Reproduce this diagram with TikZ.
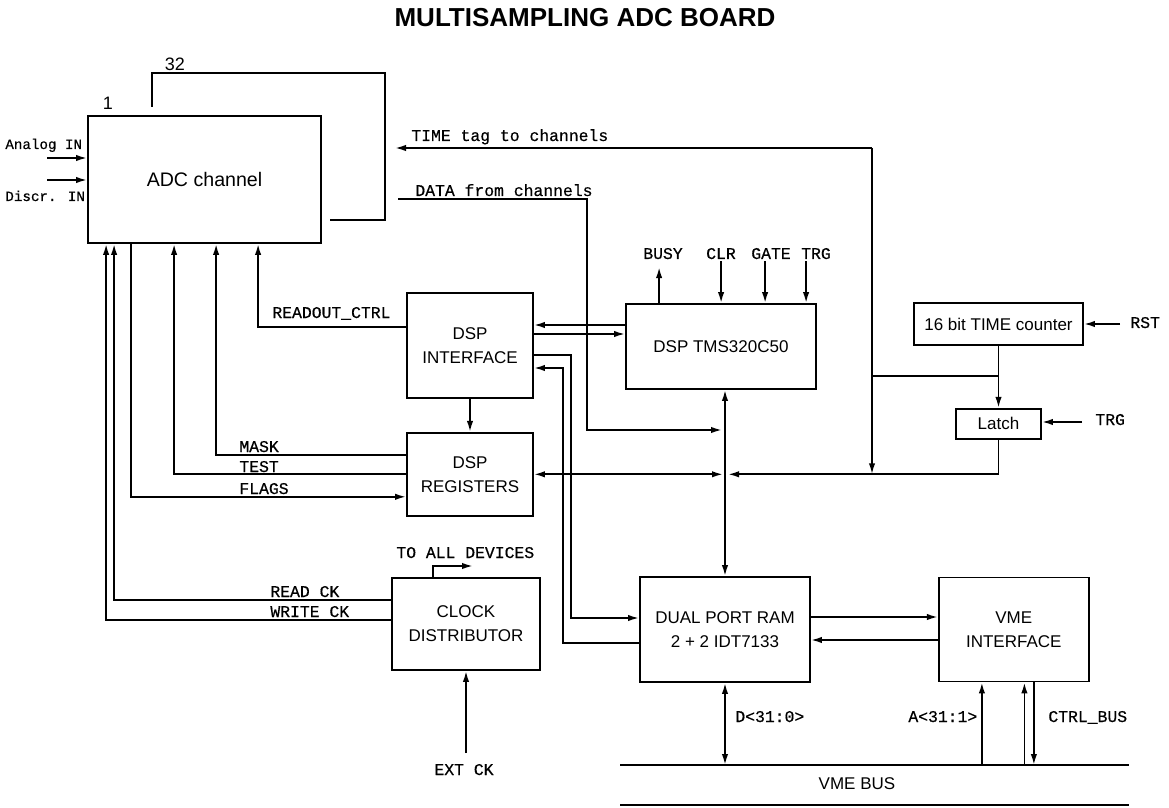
\documentclass[tikz,border=0pt]{standalone}
\usepackage{fontspec}
\setmainfont{Liberation Sans}
\setsansfont{Liberation Sans}
\setmonofont{Liberation Mono}
\newfontfamily\sigmono[FakeBold=0.5]{Liberation Mono}
\usetikzlibrary{arrows.meta,calc,positioning}
\newcommand{\blkfont}{\fontsize{8.5}{12}\selectfont\sffamily}
\newcommand{\sigfont}{\fontsize{8.2}{9}\selectfont\sigmono}
\tikzset{
  adcblock/.style={draw, line width=0.9pt, align=center, inner sep=0pt, font=\blkfont},
  adcline/.style={line width=0.9pt},
  adcarrow/.style={-{Latex[length=5.5pt,width=3.2pt]}, line width=0.9pt},
  adcboth/.style={{Latex[length=5.5pt,width=3.2pt]}-{Latex[length=5.5pt,width=3.2pt]}, line width=0.9pt},
  adclabel/.style={font=\sigfont, inner sep=0pt}
}

\begin{document}
\begin{tikzpicture}[x=0.5pt, y=-0.5pt]
  \useasboundingbox (0,0) rectangle (1169,808);
  \node[font=\fontsize{13}{15}\selectfont\sffamily\bfseries] (title) at (585,18) {MULTISAMPLING ADC BOARD};

  \node[adcblock, minimum width=116.5pt, minimum height=63.5pt, font=\fontsize{9.8}{12}\selectfont\sffamily] (adc) at (204.5,179.5) {ADC channel};
  \node[adcblock, minimum width=63pt, minimum height=52.5pt] (dspif) at (470,345.5) {DSP\\INTERFACE};
  \node[adcblock, minimum width=63pt, minimum height=41.5pt, below=16.5pt of dspif] (dspreg) {DSP\\REGISTERS};
  \node[adcblock, minimum width=95pt, minimum height=42.5pt] (dsp) at (721,346.5) {DSP TMS320C50};
  \node[adcblock, minimum width=84.5pt, minimum height=21pt] (counter) at (998.5,324) {16 bit TIME counter};
  \node[adcblock, minimum width=42.5pt, minimum height=15pt, below=31pt of counter] (latch) {Latch};
  \node[adcblock, minimum width=74pt, minimum height=46pt] (clock) at (466,624) {CLOCK\\DISTRIBUTOR};
  \node[adcblock, minimum width=85pt, minimum height=52.5pt] (ram) at (725,629.5) {DUAL PORT RAM\\2 + 2 IDT7133};
  \node[adcblock, minimum width=75pt, minimum height=52pt, right=63.5pt of ram] (vme) {VME\\INTERFACE};

  \coordinate (ain) at (47,158);
  \coordinate (din) at (47,180);
  \coordinate (tagtop) at (872,148);
  \coordinate (tagend) at (395,148);
  \coordinate (datain) at (398,199);
  \coordinate (busdata) at (722,430);
  \coordinate (busreg) at (dspreg.east -| ram.north);
  \coordinate (cntsplit) at (998.5,376);
  \coordinate (rst) at (1120,324);
  \coordinate (trgin) at (1082,422);
  \coordinate (alldev) at (473,566);
  \coordinate (extck) at (466,753);
  \coordinate (busl) at (620,765);
  \coordinate (busr) at (1129,765);
  \coordinate (busbl) at (620,805);
  \coordinate (busbr) at (1129,805);
  \coordinate (abus) at ([xshift=22pt]vme.south west);
  \coordinate (cup) at ([xshift=43.25pt]vme.south west);
  \coordinate (cdn) at ([xshift=48pt]vme.south west);

  \draw[adcarrow] (ain) -- (ain -| adc.west);
  \draw[adcarrow] (din) -- (din -| adc.west);
  \node[adclabel, font=\fontsize{7.1}{8}\selectfont\sigmono, anchor=base west] (ainlbl) at (5,149) {Analog IN};
  \node[adclabel, font=\fontsize{7.1}{8}\selectfont\sigmono, anchor=base west] (dinlbl) at (5,201) {Discr. IN};
  \draw[adcline] (152,107) |- (385,73) |- (330,220);
  \node[font=\fontsize{9}{10}\selectfont\sffamily] (first) at (108,103) {1};
  \node[font=\fontsize{9}{10}\selectfont\sffamily] (last) at (175,64) {32};

  \draw[adcarrow] (tagtop) -- (tagend);
  \node[adclabel, anchor=base west] (taglbl) at (411,141) {TIME tag to channels};
  \draw[adcarrow] (datain) -| (587,430) -- (busdata);
  \node[adclabel, anchor=base west] (datalbl) at (415,196) {DATA from channels};

  \draw[adcarrow] ([yshift=9.25pt]dspif.west) -| ([xshift=85.5pt]adc.south west);
  \node[adclabel, anchor=base west] (rdlbl) at (272,318) {READOUT\_CTRL};
  \draw[adcarrow] ([yshift=9.75pt]dspreg.west) -| ([xshift=64.5pt]adc.south west);
  \node[adclabel, anchor=base west] (masklbl) at (239,452) {MASK};
  \draw[adcarrow] (dspreg.west) -| ([xshift=43.5pt]adc.south west);
  \node[adclabel, anchor=base west] (testlbl) at (239,472) {TEST};
  \draw[adcarrow] ([xshift=22pt]adc.south west) |- ([yshift=-11.25pt]dspreg.west);
  \node[adclabel, anchor=base west] (flaglbl) at (239,494) {FLAGS};
  \draw[adcarrow] ([yshift=12pt]clock.west) -| ([xshift=13.5pt]adc.south west);
  \node[adclabel, anchor=base west] (rcklbl) at (270,597) {READ CK};
  \draw[adcarrow] ([yshift=2pt]clock.west) -| ([xshift=9.5pt]adc.south west);
  \node[adclabel, anchor=base west] (wcklbl) at (270,617) {WRITE CK};

  \draw[adcarrow] (dspif) -- (dspreg);
  \draw[adcarrow] ([yshift=10.75pt]dsp.west) -- ([yshift=10.25pt]dspif.east);
  \draw[adcarrow] ([yshift=5.75pt]dspif.east) -- ([yshift=6.25pt]dsp.west);
  \draw[adcarrow] ([yshift=-4.75pt]dspif.east) -| ([xshift=-34pt,yshift=5.75pt]ram.west) -- ([yshift=5.75pt]ram.west);
  \draw[adcarrow] ([yshift=-6.75pt]ram.west) -- ([xshift=-38pt,yshift=-6.75pt]ram.west) |- ([yshift=-11.25pt]dspif.east);

  \draw[adcarrow] ([xshift=17pt]dsp.north west) -- ([xshift=17pt,yshift=18pt]dsp.north west);
  \draw[adcarrow] ([xshift=48pt,yshift=21pt]dsp.north west) -- ([xshift=48pt]dsp.north west);
  \draw[adcarrow] ([xshift=70pt,yshift=21pt]dsp.north west) -- ([xshift=70pt]dsp.north west);
  \draw[adcarrow] ([xshift=90.5pt,yshift=21pt]dsp.north west) -- ([xshift=90.5pt]dsp.north west);
  \node[adclabel, anchor=base] (busylbl) at (663,259) {BUSY};
  \node[adclabel, anchor=base] (clrlbl) at (721,259) {CLR};
  \node[adclabel, anchor=base] (gatelbl) at (771,259) {GATE};
  \node[adclabel, anchor=base] (trglbl) at (816,259) {TRG};

  \draw[adcboth] (dsp.south -| ram.north) -- (ram.north);
  \draw[adcboth] (dspreg.east) -- ([xshift=-1pt]busreg);
  \draw[adcarrow] (latch.south) |- ([xshift=1.5pt]busreg);
  \draw[adcarrow] (tagtop) -- (tagtop |- busreg);
  \draw[adcline] (tagtop |- cntsplit) -- (cntsplit);
  \draw[adcarrow] (counter.south) -- (latch.north);
  \draw[adcarrow] (rst) -- (rst -| counter.east);
  \node[adclabel, anchor=base west] (rstlbl) at (1130,328) {RST};
  \draw[adcarrow] (trgin) -- (trgin -| latch.east);
  \node[adclabel, anchor=base west] (trginlbl) at (1095,425) {TRG};

  \draw[adcarrow] ([xshift=21pt]clock.north west) |- (alldev);
  \node[adclabel, anchor=base west] (alllbl) at (396,558) {TO ALL DEVICES};
  \draw[adcarrow] (extck) -- (clock.south);
  \node[adclabel, anchor=base] (extlbl) at (464,775) {EXT CK};

  \draw[adcarrow] ([yshift=6.25pt]ram.east) -- ([yshift=6.25pt]vme.west);
  \draw[adcarrow] ([yshift=-5.25pt]vme.west) -- ([yshift=-5.25pt]ram.east);
  \draw[adcline] (busl) -- (busr);
  \draw[adcline] (busbl) -- (busbr);
  \node[font=\blkfont] (vmebus) at (857,784) {VME BUS};
  \draw[adcboth] (ram.south) -- (ram.south |- busl);
  \node[adclabel, anchor=base west] (dlbl) at (735,722) {D<31:0>};
  \draw[adcarrow] (abus |- busl) -- (abus);
  \node[adclabel, anchor=base west] (albl) at (908,722) {A<31:1>};
  \draw[adcarrow] (cup |- busl) -- (cup);
  \draw[adcarrow] (cdn) -- (cdn |- busl);
  \node[adclabel, anchor=base west] (ctrllbl) at (1048,722) {CTRL\_BUS};
\end{tikzpicture}
\end{document}
